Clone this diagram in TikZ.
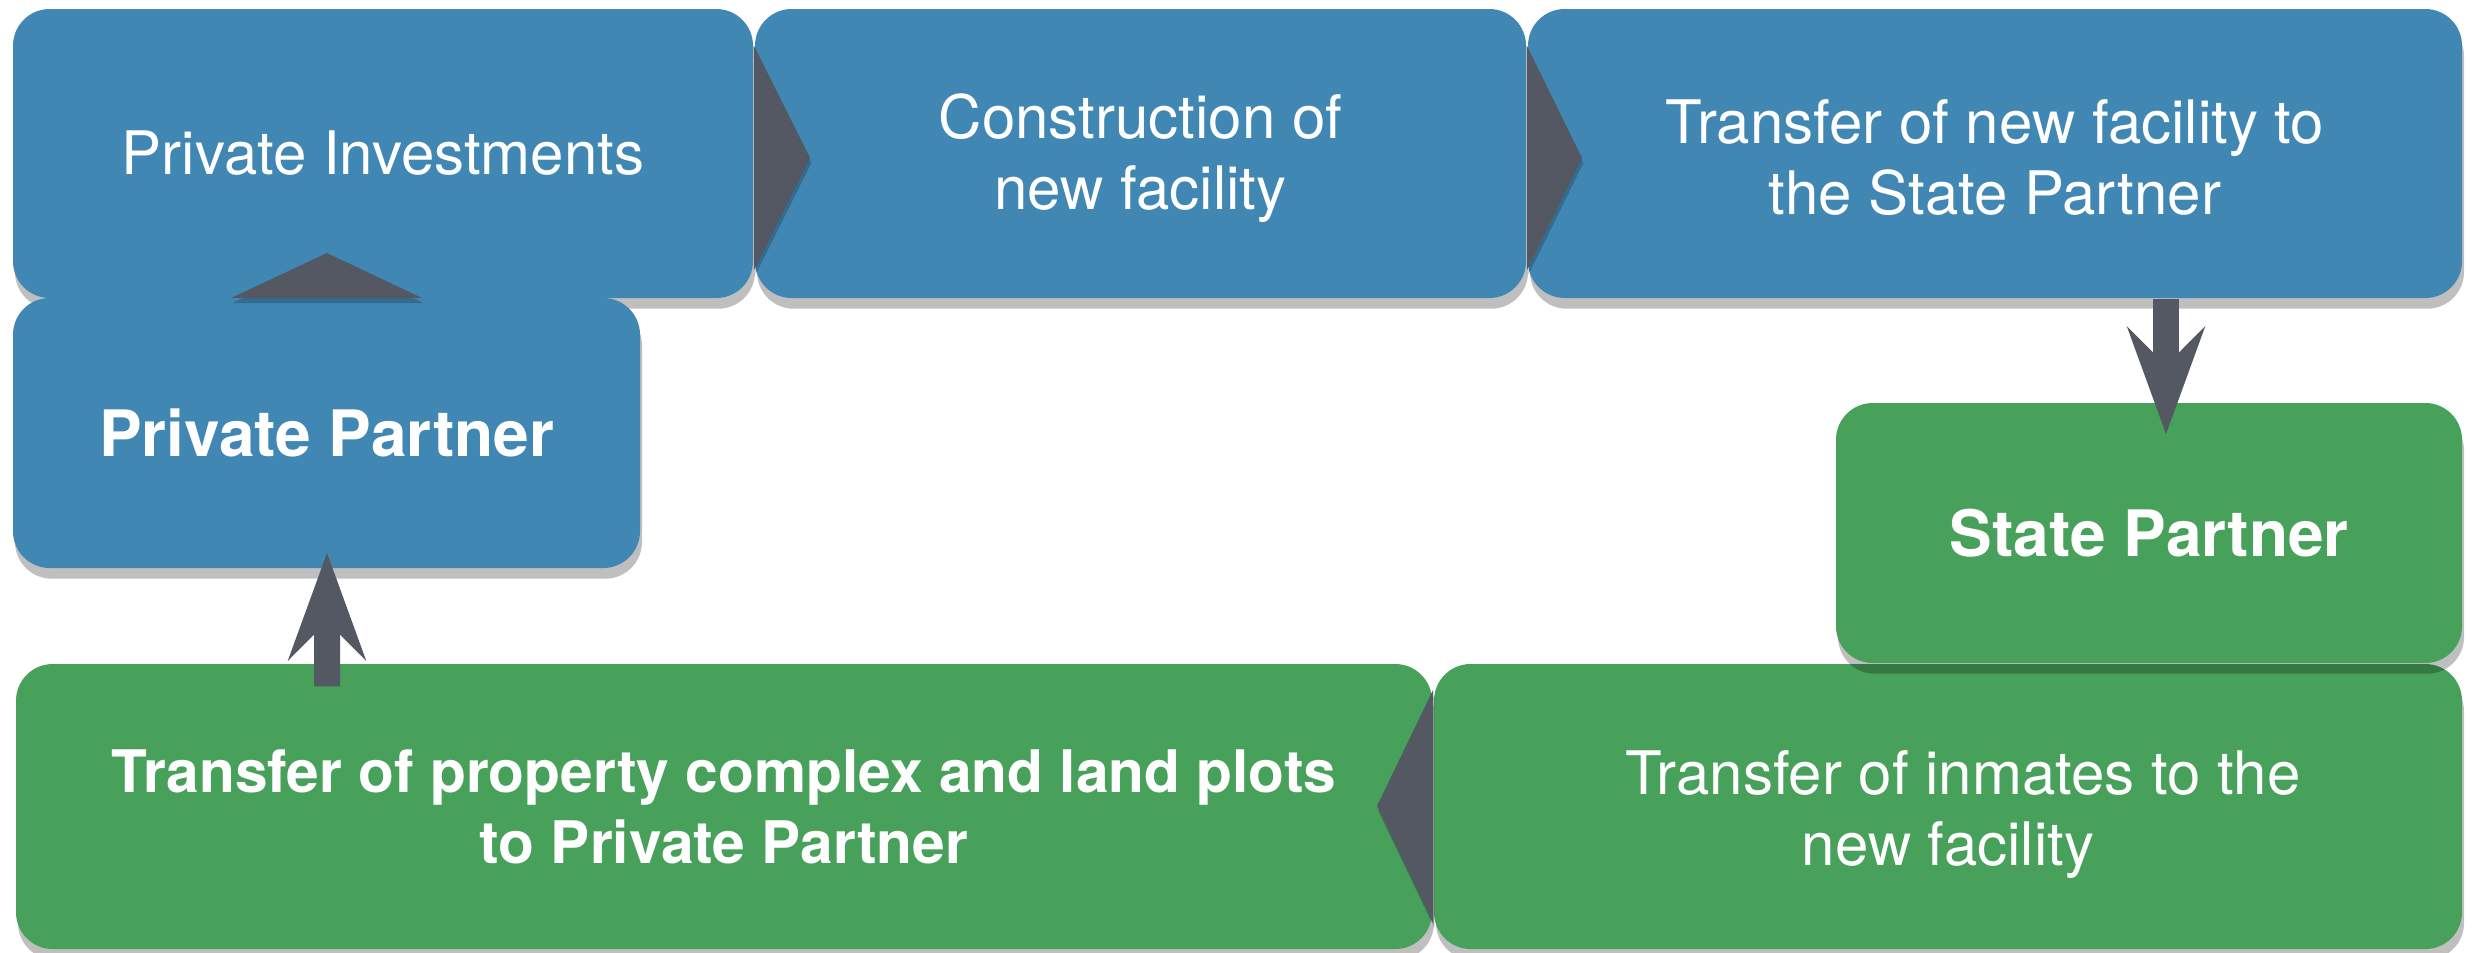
\documentclass[tikz,border=0pt]{standalone}
\usepackage{fontspec}
\setmainfont{TeX Gyre Heros}
\usetikzlibrary{shadows,arrows.meta,calc}
\definecolor{pblue}{HTML}{4087B3}
\definecolor{pgreen}{HTML}{47A15B}
\definecolor{parrow}{HTML}{535862}
\newcommand{\lift}[1]{\rule{0pt}{#1}}
\tikzset{
  box/.style={rectangle, rounded corners=11pt, inner sep=0pt, text=white, align=center,
    drop shadow={shadow xshift=0.6pt, shadow yshift=-3.2pt, opacity=0.25, fill=black}},
  bluebox/.style={box, fill=pblue},
  greenbox/.style={box, fill=pgreen},
  reg/.style={font=\fontsize{18pt}{21.3pt}\selectfont},
  bld/.style={font=\fontsize{17.6pt}{21.3pt}\selectfont\bfseries},
  big/.style={font=\fontsize{19.2pt}{23pt}\selectfont\bfseries},
  chev/.style={fill=parrow, drop shadow={shadow xshift=0.4pt, shadow yshift=-1.5pt, opacity=0.2, fill=black}},
  vconn/.style={draw=parrow, line width=7.8pt,
    -{Stealth[length=32pt, width=23pt, inset=11.4pt]}}
}
\begin{document}
\begin{tikzpicture}[x=0.3pt, y=-0.3pt]
\useasboundingbox (0,0) rectangle (2476,952);
% top row
\node[bluebox, reg, minimum width=222pt, minimum height=86.7pt] (b1) at (383,153.5) {Private Investments};
\node[bluebox, reg, minimum width=231.3pt, minimum height=86.7pt] (b2) at (1140.5,153.5) {\lift{16pt}Construction of\\new facility};
\node[bluebox, reg, minimum width=280.2pt, minimum height=86.7pt] (b3) at (1995,153.5) {\lift{15.5pt}Transfer of new facility to\\the State Partner};
% private partner
\node[bluebox, big, minimum width=188.1pt, minimum height=81pt] (b4) at (326.5,433) {Private Partner};
% bottom row
\node[greenbox, bld, minimum width=424.8pt, minimum height=85.5pt] (b6) at (724,806.5) {Transfer of property complex and land plots\\to Private Partner};
\node[greenbox, reg, minimum width=308.4pt, minimum height=85.5pt] (b7) at (1948,806.5) {\lift{18pt}\hspace*{9pt}Transfer of inmates to the\\new facility};
% state partner
\node[greenbox, big, minimum width=187.8pt, minimum height=78pt] (b5) at (2149,533) {State Partner};
% chevrons between adjacent boxes
\fill[chev] (754,46) -- (810,158) -- (754,270) -- cycle;
\fill[chev] (1527,46) -- (1582,158) -- (1527,270) -- cycle;
\fill[chev] (1433,690) -- (1377,806) -- (1433,923) -- cycle;
\fill[chev] (231,298) -- (327,253) -- (422,298) -- cycle;
% vertical connectors
\coordinate (a1s) at ($(b3.south)+(171,0)$);
\coordinate (a1e) at ($(b5.north)+(17,32)$);
\draw[vconn] (a1s) -- (a1e);
\coordinate (a2s) at ($(b6.north)+(-397,23)$);
\coordinate (a2e) at ($(b4.south)+(0.5,-16)$);
\draw[vconn] (a2s) -- (a2e);
\end{tikzpicture}
\end{document}
